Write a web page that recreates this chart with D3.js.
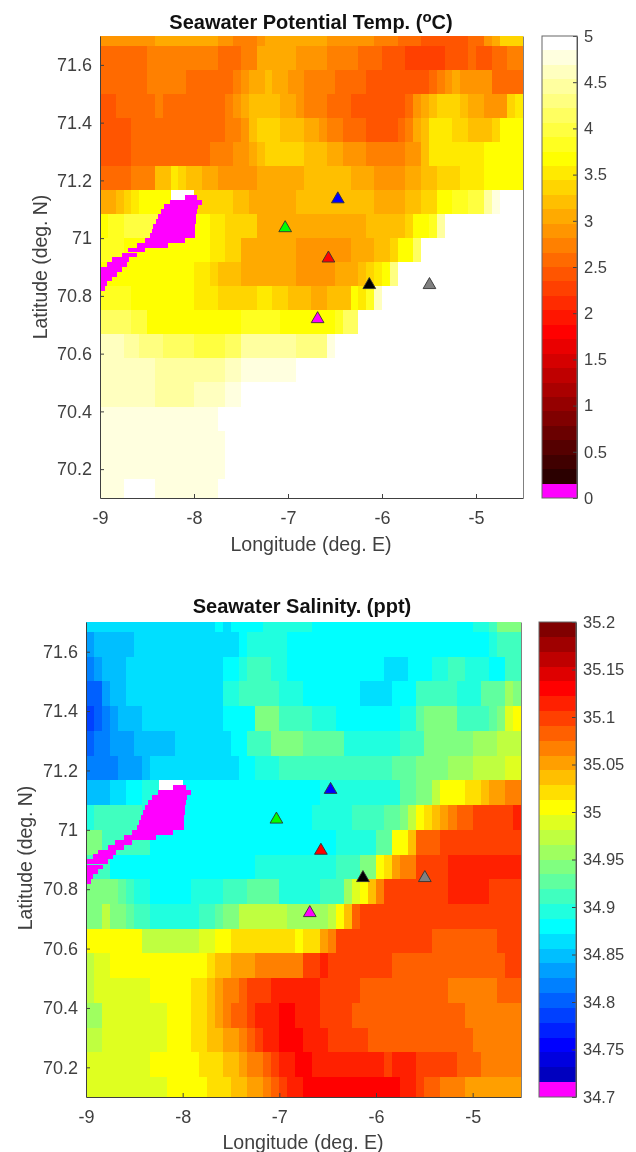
<!DOCTYPE html>
<html>
<head>
<meta charset="utf-8">
<script src="https://cdn.jsdelivr.net/npm/d3@7"></script>
<style>
  html, body { margin: 0; background: #fff; }
  svg { display: block; filter: blur(0.45px); }
  text { font-family: "Liberation Sans", Arial, sans-serif; }
</style>
</head>
<body>
<div id="root"></div>
<script>
// Grid rows, north to south, one per 1/12 degree
const lats = [71.708, 71.625, 71.542, 71.458, 71.375, 71.292, 71.208, 71.125, 71.042, 70.958,
  70.875, 70.792, 70.708, 70.625, 70.542, 70.458, 70.375, 70.292, 70.208, 70.125]

// Temperature per row as value,count runs over the 54 longitudes
const tempRuns = [
  [2.89,7, 3.05,8, 2.89,2, 2.73,3, 2.89,1, 3.05,8, 2.89,6, 2.73,3, 2.58,3, 2.42,6, 2.58,2, 2.89,1, 3.05,1, 3.36,3],
  [2.58,6, 2.73,9, 2.58,3, 2.73,2, 3.05,5, 2.89,4, 2.73,4, 2.58,3, 2.42,3, 2.27,5, 2.42,3, 2.58,1, 2.42,2, 2.58,2, 2.73,2],
  [2.58,6, 2.73,5, 2.58,6, 2.73,1, 2.89,1, 3.05,2, 3.2,1, 3.05,2, 2.89,2, 2.73,4, 2.58,4, 2.42,8, 2.58,1, 2.73,1, 2.89,1, 3.05,1, 2.89,4, 2.58,4],
  [2.42,2, 2.58,5, 2.73,1, 2.58,8, 2.73,1, 2.89,1, 3.05,1, 3.2,4, 3.05,2, 2.89,1, 2.73,3, 2.58,3, 2.42,7, 2.58,1, 2.89,1, 3.05,1, 3.2,1, 3.36,3, 3.2,1, 3.05,2, 2.89,3, 3.36,1, 3.52,1],
  [2.42,4, 2.58,12, 2.73,2, 2.89,1, 3.2,1, 3.36,3, 3.2,3, 3.05,2, 2.89,1, 2.73,2, 2.58,3, 2.42,4, 2.58,1, 2.73,1, 3.05,1, 3.2,1, 3.52,3, 3.36,2, 3.2,3, 3.36,1, 3.67,3],
  [2.42,4, 2.58,10, 2.73,3, 2.89,2, 3.05,1, 3.2,1, 3.36,5, 3.2,3, 3.05,2, 2.89,3, 2.73,5, 2.89,2, 3.2,1, 3.52,7, 3.67,5],
  [2.58,4, 2.73,3, 3.2,2, 3.52,1, 3.36,1, 3.2,2, 3.05,2, 2.89,5, 3.05,6, 3.2,6, 3.05,3, 2.89,4, 3.05,2, 3.2,2, 3.36,3, 3.52,3, 3.67,5],
  [3.05,2, 3.2,1, 3.36,1, 3.52,1, 3.67,4, null,3, 3.36,5, 3.2,2, 3.05,6, 3.2,10, 3.05,4, 3.2,2, 3.36,2, 3.67,2, 3.83,2, 3.98,2, 4.45,1, 4.77,1, 4.92,3],
  [3.67,1, 3.83,2, 3.98,5, 3.67,6, 3.52,2, 3.36,4, 3.05,14, 3.2,5, 3.36,1, 3.67,2, 3.83,1, 4.45,1, 4.92,10],
  [3.83,3, 3.67,11, 3.52,2, 3.36,2, 3.05,7, 2.89,7, 3.05,3, 3.2,2, 3.36,1, 3.67,2, 4.14,1, 4.92,13],
  [3.67,12, 3.52,2, 3.36,1, 3.2,3, 3.05,7, 2.89,5, 3.05,3, 3.2,1, 3.36,1, 3.52,1, 3.67,1, 4.3,1, 4.92,16],
  [3.83,4, 3.67,8, 3.52,3, 3.36,5, 3.52,2, 3.36,2, 3.2,3, 3.05,2, 3.2,3, 3.67,1, 3.52,1, 3.83,1, 4.61,1, 4.92,18],
  [4.14,4, 3.98,2, 3.67,12, 3.83,5, 3.67,7, 3.83,1, 4.14,2, 4.92,21],
  [4.61,3, 4.45,2, 4.3,3, 4.14,4, 3.98,4, 4.14,2, 4.45,7, 4.3,4, 4.77,1, 4.92,24],
  [4.61,7, 4.45,9, 4.61,2, 4.77,7, 4.92,29],
  [4.61,7, 4.45,5, 4.61,4, 4.77,2, 4.92,36],
  [4.77,15, 4.92,39],
  [4.77,16, 4.92,38],
  [4.77,16, 4.92,38],
  [4.77,3, 4.92,4, 4.77,8, 4.92,39]
]

// Salinity per row, same layout
const salRuns = [
  [34.864,16, 34.88,1, 34.864,1, 34.88,4, 34.895,6, 34.88,20, 34.895,2, 34.911,1, 34.942,3],
  [34.833,1, 34.848,5, 34.864,13, 34.88,1, 34.895,5, 34.88,25, 34.895,1, 34.911,3],
  [34.817,1, 34.833,1, 34.848,3, 34.864,12, 34.88,2, 34.895,1, 34.911,3, 34.895,2, 34.88,12, 34.864,3, 34.88,3, 34.895,2, 34.911,2, 34.895,3, 34.88,2, 34.911,2],
  [34.802,2, 34.833,1, 34.848,2, 34.864,12, 34.895,2, 34.911,5, 34.895,3, 34.88,7, 34.864,4, 34.88,3, 34.911,5, 34.895,3, 34.927,3, 34.958,1, 34.942,1],
  [34.786,1, 34.802,1, 34.817,1, 34.833,1, 34.848,3, 34.864,10, 34.88,4, 34.942,3, 34.911,4, 34.895,3, 34.88,8, 34.895,2, 34.927,1, 34.942,4, 34.911,4, 34.927,1, 34.942,1, 34.989,1, 35.005,1],
  [34.802,1, 34.817,2, 34.833,3, 34.848,5, 34.864,7, 34.88,2, 34.911,3, 34.942,4, 34.927,5, 34.895,7, 34.911,3, 34.942,6, 34.958,3, 34.973,3],
  [34.817,4, 34.833,3, 34.848,1, 34.864,11, 34.88,2, 34.895,3, 34.911,14, 34.927,3, 34.942,4, 34.958,3, 34.973,4, 34.989,2],
  [34.848,3, 34.864,2, 34.88,2, 34.895,2, null,3, 34.88,17, 34.895,10, 34.927,2, 34.942,2, 34.973,1, 35.005,3, 35.02,2, 35.036,1, 35.052,2, 35.067,2],
  [34.895,1, 34.911,6, 34.895,5, 34.88,16, 34.895,5, 34.911,4, 34.927,2, 34.942,1, 34.973,1, 35.005,1, 35.02,1, 35.036,1, 35.052,1, 35.067,1, 35.083,2, 35.098,5, 35.114,1],
  [34.942,2, 34.911,6, 34.88,23, 34.895,5, 34.927,2, 35.005,2, 35.036,1, 35.083,3, 35.098,10],
  [34.911,3, 34.88,18, 34.895,10, 34.911,3, 34.942,2, 35.005,1, 35.02,1, 35.052,1, 35.067,2, 35.098,4, 35.114,9],
  [34.942,4, 34.927,1, 34.911,1, 34.895,2, 34.88,5, 34.895,4, 34.911,3, 34.927,4, 34.895,5, 34.911,3, 34.958,1, 34.989,1, 35.005,1, 35.036,1, 35.067,1, 35.098,8, 35.114,5, 35.098,4],
  [34.942,2, 34.973,1, 34.942,2, 34.927,1, 34.911,2, 34.895,6, 34.911,2, 34.927,1, 34.942,2, 34.973,6, 34.958,5, 34.973,1, 35.005,1, 35.036,1, 35.083,1, 35.098,20],
  [35.005,7, 34.973,7, 34.989,2, 35.005,2, 35.02,8, 35.005,1, 35.02,2, 35.052,1, 35.067,1, 35.098,12, 35.083,8, 35.098,3],
  [34.973,1, 34.989,2, 35.005,12, 35.02,1, 35.036,2, 35.052,3, 35.067,6, 35.098,2, 35.114,1, 35.098,8, 35.083,14, 35.098,2],
  [34.973,1, 34.989,7, 35.005,5, 35.02,2, 35.036,1, 35.052,1, 35.067,2, 35.083,1, 35.098,3, 35.114,6, 35.098,5, 35.083,11, 35.067,6, 35.083,3],
  [34.958,2, 34.989,8, 35.005,3, 35.02,2, 35.036,1, 35.052,1, 35.067,1, 35.083,2, 35.098,1, 35.114,3, 35.13,2, 35.114,3, 35.098,4, 35.083,14, 35.067,7],
  [34.973,2, 34.989,8, 35.005,3, 35.02,2, 35.036,2, 35.052,2, 35.067,1, 35.083,1, 35.098,1, 35.114,2, 35.13,3, 35.114,3, 35.098,5, 35.083,13, 35.067,6],
  [34.989,8, 35.005,6, 35.02,3, 35.036,2, 35.052,1, 35.067,2, 35.083,1, 35.098,1, 35.114,2, 35.13,2, 35.114,9, 35.098,1, 35.114,3, 35.098,5, 35.083,3, 35.067,5],
  [34.989,10, 35.005,5, 35.02,3, 35.036,2, 35.052,2, 35.067,1, 35.083,1, 35.098,1, 35.114,2, 35.13,12, 35.114,2, 35.098,1, 35.083,2, 35.067,3, 35.052,7]
]

// Land mask, one strip per 1/60 degree, north edge then west and east limits
const landNorth = [71.15, 71.133, 71.117, 71.1, 71.083, 71.067, 71.05, 71.033, 71.017, 71.0,
  70.983, 70.967, 70.95, 70.933, 70.917, 70.9, 70.883, 70.867, 70.85, 70.833]
const landWest = [-8.096, -8.255, -8.319, -8.355, -8.387, -8.408, -8.433, -8.45, -8.468, -8.52,
  -8.61, -8.698, -8.77, -8.876, -8.929, -8.99, -9, -9, -9, -9]
const landEast = [-7.97, -7.918, -7.96, -7.97, -7.98, -7.98, -7.99, -7.99, -7.99, -8.096,
  -8.28, -8.52, -8.61, -8.688, -8.716, -8.77, -8.823, -8.876, -8.929, -8.947]

// Stations
const stationLon = [-6.47, -7.03, -6.57, -6.135, -5.495, -6.685]
const stationLat = [71.135, 71.035, 70.93, 70.838, 70.838, 70.72]
const stationColor = ['#0000ff', '#00ff00', '#ff0000', '#000000', '#808080', '#ff00ff']

const lonTicks = [-9, -8, -7, -6, -5]
const latTicks = [70.2, 70.4, 70.6, 70.8, 71, 71.2, 71.4, 71.6]
const tempTicks = [0, 0.5, 1, 1.5, 2, 2.5, 3, 3.5, 4, 4.5, 5]
const salTicks = [34.7, 34.75, 34.8, 34.85, 34.9, 34.95, 35, 35.05, 35.1, 35.15, 35.2]

const clamp01 = v => Math.max(0, Math.min(1, v))
const rgb = (r, g, b) => d3.rgb(r * 255, g * 255, b * 255).formatHex()

// MATLAB hot and jet with 32 levels, lowest level swapped for magenta
const hotColors = d3.range(32).map(k => {
  const i = 2 * k + 2
  return k === 0 ? '#ff00ff' : rgb(clamp01(i / 24), clamp01((i - 24) / 24), clamp01((i - 48) / 16))
})
const jetColors = d3.range(32).map(k => {
  const i = 2 * k + 2
  const r = i <= 24 ? 0 : i <= 40 ? (i - 24) / 16 : i <= 56 ? 1 : 1 - (i - 56) / 16
  const g = i <= 8 ? 0 : i <= 24 ? (i - 8) / 16 : i <= 40 ? 1 : i <= 56 ? 1 - (i - 40) / 16 : 0
  const b = i <= 8 ? (i + 8) / 16 : i <= 24 ? 1 : i <= 40 ? 1 - (i - 24) / 16 : 0
  return k === 0 ? '#ff00ff' : rgb(r, g, b)
})

const expandRuns = runs => d3.range(runs.length / 2).flatMap(i => Array(runs[2 * i + 1]).fill(runs[2 * i]))

const svg = d3.select("#root").append("svg")
  .attr("width", 636)
  .attr("height", 1152)

const textColor = '#404040'

function styleAxis(g, size) {
  g.selectAll("path, line").attr("stroke", textColor).attr("stroke-width", 1)
  g.selectAll("text").attr("fill", textColor).attr("font-size", size)
}

function drawPanel(p) {
  const x = d3.scaleLinear().domain([-9, -4.5]).range([p.left, p.right]).clamp(true)
  const y = d3.scaleLinear().domain([70.1, 71.7]).range([p.bottom, p.top]).clamp(true)
  const color = d3.scaleQuantize().domain(p.domain).range(p.colors)
  const half = 1 / 24

  // Row edges sit halfway between neighbouring rows, so no gap can open up
  const rowTop = r => Math.round(y(r === 0 ? lats[0] + half : (lats[r - 1] + lats[r]) / 2))
  const rowBottom = r => Math.round(y(r === lats.length - 1 ? lats[r] - half : (lats[r] + lats[r + 1]) / 2))

  // Cells, edges rounded so neighbours share a pixel line
  const cells = svg.append("g").attr("shape-rendering", "crispEdges")
  p.runs.forEach((runs, r) => {
    const y0 = rowTop(r)
    const y1 = rowBottom(r)
    expandRuns(runs).forEach((v, c) => {
      if (v === null) return
      const lon = -9 + (c + 0.5) / 12
      const x0 = Math.round(x(lon - half))
      const x1 = Math.round(x(lon + half))
      cells.append("rect")
        .attr("x", x0)
        .attr("y", y0)
        .attr("width", x1 - x0)
        .attr("height", y1 - y0)
        .attr("fill", color(v))
    })
  })

  // Land
  svg.append("g").attr("shape-rendering", "crispEdges")
    .selectAll("rect")
    .data(landNorth)
    .enter().append("rect")
    .attr("x", (d, i) => Math.round(x(landWest[i])))
    .attr("y", d => Math.round(y(d)))
    .attr("width", (d, i) => Math.round(x(landEast[i])) - Math.round(x(landWest[i])))
    .attr("height", d => Math.round(y(d - 1 / 60)) - Math.round(y(d)))
    .attr("fill", "#ff00ff")

  // Stations
  svg.append("g")
    .selectAll("path")
    .data(stationLon)
    .enter().append("path")
    .attr("d", d3.symbol().type(d3.symbolTriangle).size(70))
    .attr("transform", (d, i) => `translate(${x(d)},${y(stationLat[i])})`)
    .attr("fill", (d, i) => stationColor[i])
    .attr("stroke", "#333")
    .attr("stroke-width", 0.9)

  // Axes
  const xAxis = d3.axisBottom(x).tickValues(lonTicks).tickFormat(d => d)
    .tickSizeInner(-4).tickSizeOuter(0).tickPadding(13)
  svg.append("g")
    .attr("transform", `translate(0,${p.bottom})`)
    .call(xAxis)
    .call(styleAxis, 18)

  const yAxis = d3.axisLeft(y).tickValues(latTicks).tickFormat(d => d)
    .tickSizeInner(-4).tickSizeOuter(0).tickPadding(8)
  svg.append("g")
    .attr("transform", `translate(${p.left},0)`)
    .call(yAxis)
    .call(styleAxis, 18)

  // Right edge of the box
  svg.append("g")
    .attr("transform", `translate(${p.right},0)`)
    .call(d3.axisRight(y).tickValues([]).tickSizeOuter(0))
    .call(g => g.select("path").attr("stroke", "#808080"))

  svg.append("text")
    .attr("x", p.xLabelX).attr("y", p.xLabelY)
    .attr("text-anchor", "middle").attr("font-size", 19.6).attr("fill", textColor)
    .text("Longitude (deg. E)")

  svg.append("text")
    .attr("transform", `translate(${p.yLabelX},${p.yLabelY}) rotate(-90)`)
    .attr("text-anchor", "middle").attr("font-size", 19.4).attr("fill", textColor)
    .text("Latitude (deg. N)")

  // Title, with the degree sign as a raised o
  const title = svg.append("text")
    .attr("x", p.titleX).attr("y", p.titleY)
    .attr("text-anchor", "middle").attr("font-weight", "bold").attr("fill", "#111")
  p.title.forEach(part => {
    title.append("tspan")
      .attr("dy", part.dy || 0)
      .attr("font-size", part.size || 20)
      .text(part.text)
  })

  // Colorbar
  const barY = d3.scaleLinear().domain(p.domain).range([p.bottom, p.top])
  const step = (p.domain[1] - p.domain[0]) / p.colors.length
  svg.append("g").attr("shape-rendering", "crispEdges")
    .selectAll("rect")
    .data(p.colors)
    .enter().append("rect")
    .attr("x", p.barLeft)
    .attr("y", (d, i) => Math.round(barY(p.domain[0] + (i + 1) * step)))
    .attr("width", p.barRight - p.barLeft)
    .attr("height", (d, i) => Math.round(barY(p.domain[0] + i * step)) - Math.round(barY(p.domain[0] + (i + 1) * step)))
    .attr("fill", d => d)

  const barAxis = d3.axisRight(barY).tickValues(p.barTicks).tickFormat(d => d)
    .tickSizeInner(-4).tickSizeOuter(0).tickPadding(7)
  svg.append("g")
    .attr("transform", `translate(${p.barRight},0)`)
    .call(barAxis)
    .call(styleAxis, 16.5)

  svg.append("rect")
    .attr("x", p.barLeft).attr("y", p.top)
    .attr("width", p.barRight - p.barLeft).attr("height", p.bottom - p.top)
    .attr("fill", "none").attr("stroke", "#666").attr("stroke-width", 1)
}

drawPanel({
  left: 100, right: 523, top: 36, bottom: 498,
  runs: tempRuns, domain: [0, 5], colors: hotColors, barTicks: tempTicks,
  barLeft: 542, barRight: 577,
  xLabelX: 311, xLabelY: 551, yLabelX: 47, yLabelY: 267,
  titleX: 311, titleY: 29,
  title: [{ text: "Seawater Potential Temp. (" }, { text: "o", dy: -7, size: 15 }, { text: "C)", dy: 7 }]
})

drawPanel({
  left: 86, right: 521, top: 622, bottom: 1097,
  runs: salRuns, domain: [34.7, 35.2], colors: jetColors, barTicks: salTicks,
  barLeft: 539, barRight: 576,
  xLabelX: 303, xLabelY: 1149, yLabelX: 32, yLabelY: 858,
  titleX: 302, titleY: 613,
  title: [{ text: "Seawater Salinity. (ppt)" }]
})
</script>
</body>
</html>
